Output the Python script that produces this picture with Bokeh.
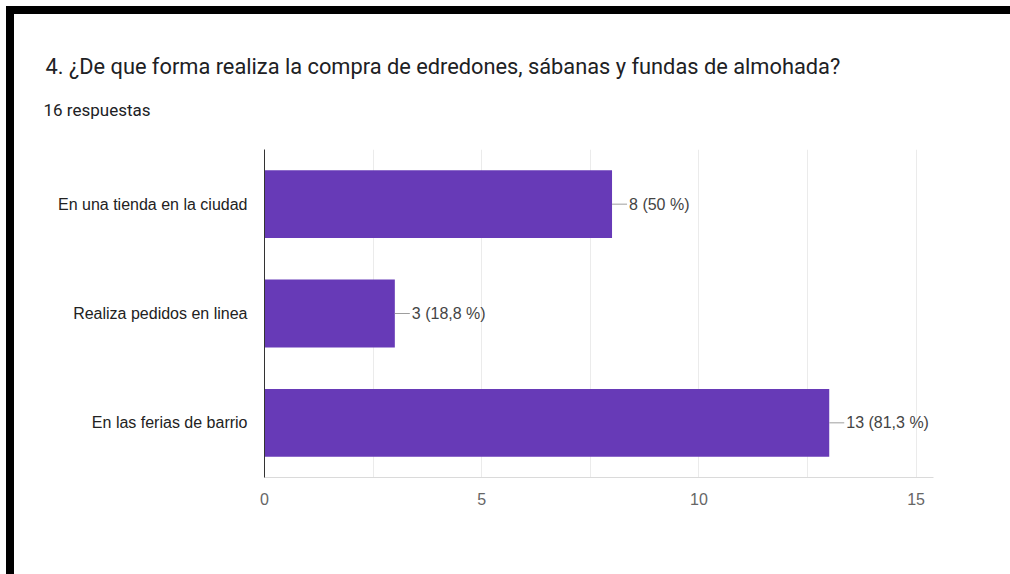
from bokeh.plotting import figure
from bokeh.models import FactorRange, Range1d, FixedTicker, ColumnDataSource, LabelSet, Div, Title
from bokeh.layouts import column, row
from bokeh.embed import file_html
from bokeh.resources import INLINE
from bokeh.core.properties import value

categories = ["En una tienda en la ciudad", "Realiza pedidos en linea", "En las ferias de barrio"]
counts = [8, 3, 13]
value_labels = ["8 (50 %)", "3 (18,8 %)", "13 (81,3 %)"]
x_ticks = [0, 5, 10, 15]
grid_ticks = [0, 2.5, 5, 7.5, 10, 12.5, 15]
title_text = "4. ¿De que forma realiza la compra de edredones, sábanas y fundas de almohada?"
subtitle_text = "16 respuestas"

W, H = 996, 560
X_END = 15.4
PX_PER_UNIT = 43.46

p = figure(width=W, height=H, output_backend="svg", toolbar_location=None,
           y_range=FactorRange(factors=list(reversed(categories)), range_padding=0),
           x_range=Range1d(0, X_END),
           min_border_left=250, min_border_right=W - 250 - int(round(X_END * PX_PER_UNIT)),
           min_border_top=135, min_border_bottom=97)

# main title is p.title (farthest from the chart); response count added below it
p.title.text = title_text
p.title.align = "left"
p.title.offset = -219
p.title.text_font = "Roboto"
p.title.text_font_size = "21.8px"
p.title.text_font_style = "normal"
p.title.text_color = "#202124"
sub = Title(text=subtitle_text, align="left", offset=-221,
            text_font="Roboto", text_font_size="17px", text_font_style="normal",
            text_color="#202124")
try:
    p.title.standoff = -21
    sub.standoff = 59
    p.add_layout(sub, "above")
except Exception:
    p.title.standoff = 38
    sub.standoff = 0
    p.add_layout(sub, "above")
    p.add_layout(Title(text=" ", text_font_size="1px", standoff=26), "above")

src = ColumnDataSource(dict(cat=categories, count=counts, label=value_labels))
p.hbar(y="cat", left=0, right="count", height=0.62, source=src,
       fill_color="#673ab7", line_color=None)
p.ray(x="count", y="cat", length=15, length_units="screen", angle=0,
      line_color="#9e9e9e", line_width=1, source=src)
p.add_layout(LabelSet(x="count", y="cat", text="label", x_offset=17, source=src,
                      text_baseline="middle", text_font=value("Liberation Sans"),
                      text_font_size="16px", text_color="#444444"))

p.xaxis.ticker = FixedTicker(ticks=x_ticks)
p.xgrid.ticker = FixedTicker(ticks=grid_ticks)
p.xgrid.grid_line_color = "#ebebeb"
p.ygrid.grid_line_color = None
p.xaxis.axis_line_color = "#dadada"
p.xaxis.major_tick_line_color = None
p.xaxis.minor_tick_line_color = None
p.xaxis.major_tick_out = 0
p.xaxis.major_tick_in = 0
p.xaxis.major_label_standoff = 15
p.xaxis.major_label_text_font = "Liberation Sans"
p.xaxis.major_label_text_font_size = "16px"
p.xaxis.major_label_text_color = "#666666"

p.yaxis.axis_line_color = "#333333"
p.yaxis.major_tick_line_color = None
p.yaxis.minor_tick_line_color = None
p.yaxis.major_tick_out = 0
p.yaxis.major_tick_in = 0
p.yaxis.major_label_standoff = 17
p.yaxis.major_label_text_font = "Liberation Sans"
p.yaxis.major_label_text_font_size = "16px"
p.yaxis.major_label_text_color = "#222222"
p.outline_line_color = None

# ---- page frame: white strip, then black border on top and left ----
def block(w, h, color):
    return Div(width=w, height=h, margin=0, styles={"background-color": color})

framed = column(block(W + 8, 8, "black"),
                row(block(8, H, "black"), p, spacing=0), spacing=0)
layout = column(block(W + 14, 6, "white"),
                row(block(6, H + 8, "white"), framed, spacing=0), spacing=0)

open("out.html", "w").write(file_html(layout, INLINE))
